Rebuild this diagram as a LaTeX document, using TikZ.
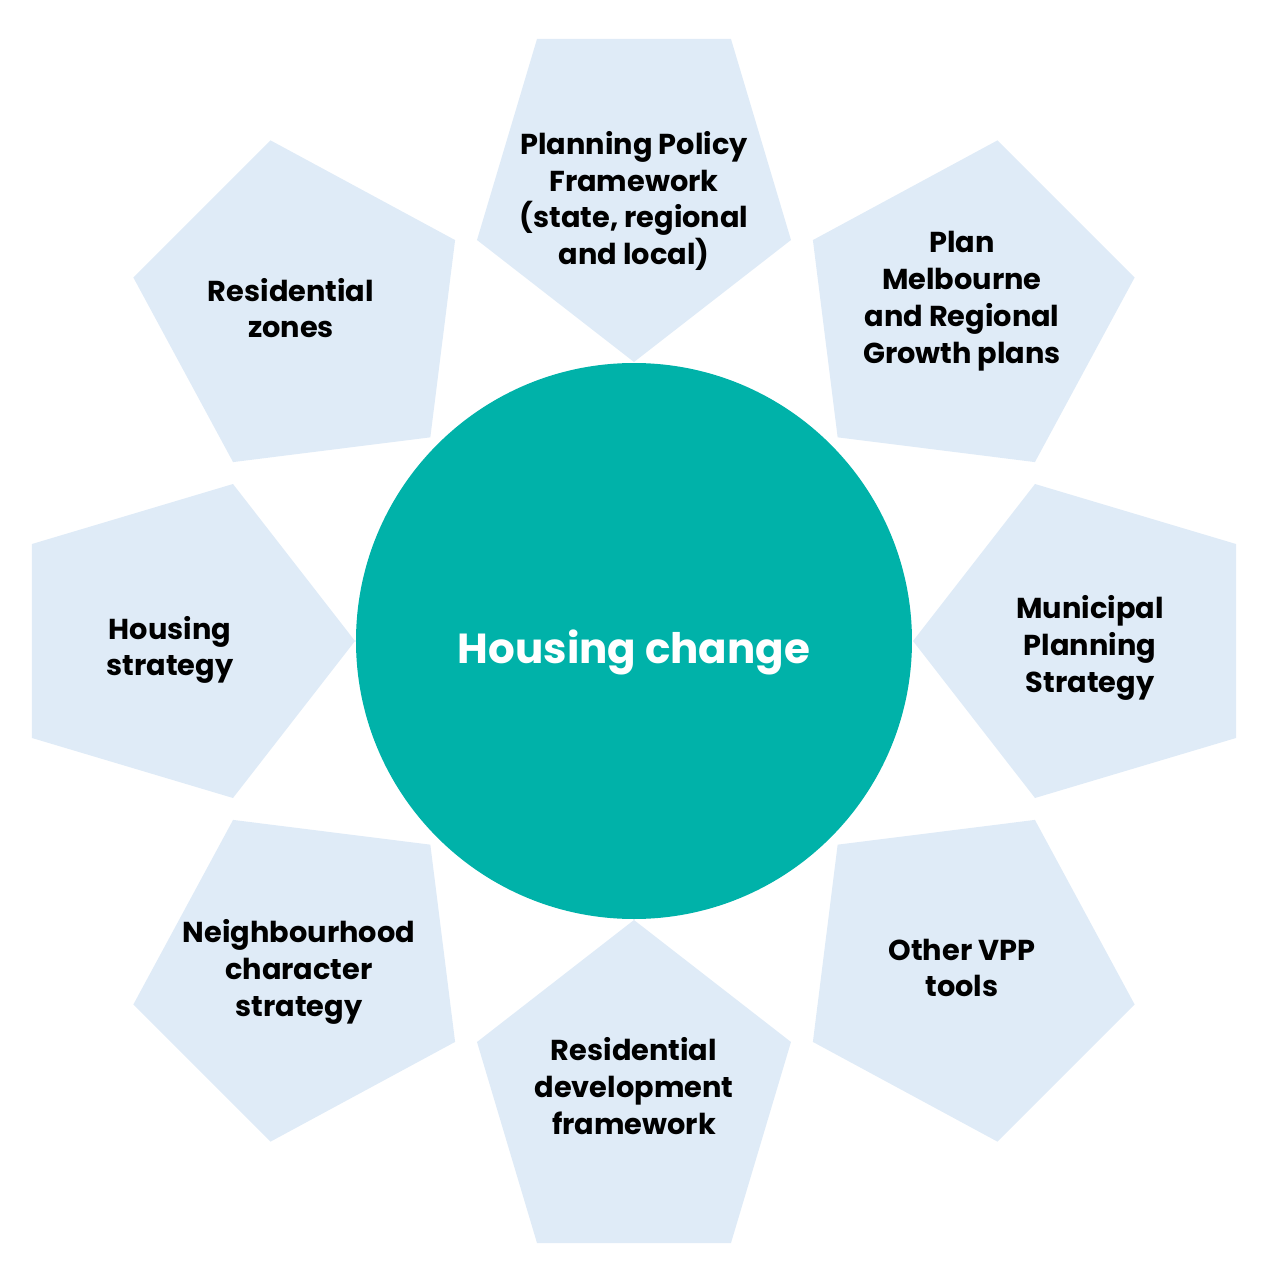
\documentclass[tikz,border=0pt]{standalone}
\usepackage{fontspec}
\setmainfont{Poppins}
\definecolor{petalblue}{HTML}{DFEBF7}
\definecolor{hubteal}{HTML}{00B2A9}
\begin{document}
\begin{tikzpicture}[x=0.5pt,y=0.5pt,
    petal/.style={fill=petalblue},
    main node/.style={align=center,inner sep=0pt,font=\fontsize{14.4}{18.4}\selectfont\bfseries},
    hub node/.style={circle,fill=hubteal,minimum size=278pt,inner sep=0pt},
    hub label/.style={text=white,inner sep=0pt,font=\fontsize{21}{25}\selectfont\bfseries}]
            \useasboundingbox (-634,-624) rectangle (630,641);

            \foreach \ang/\off in {0/0,45/9,90/0,135/9,180/0,225/9,270/0,315/9}
                \fill[petal,rotate=\ang] (279+\off,0) -- (401+\off,157) -- (602+\off,97)
                    -- (602+\off,-97) -- (401+\off,-157) -- cycle;

            \node[hub node] at (0,0) (hub) {};
            \node[hub label,anchor=base] at (0,-22) (change) {Housing change};

            \node[main node] at (0, 440) (ppf) {Planning Policy\\Framework\\(state, regional\\and local)};
            \node[main node] at (328, 340) (plan) {Plan\\Melbourne\\and Regional\\Growth plans};
            \node[main node] at (456, -7) (mps) {Municipal\\Planning\\Strategy};
            \node[main node] at (328, -327) (vpp) {Other VPP\\tools};
            \node[main node] at (0, -445) (rdf) {Residential\\development\\framework};
            \node[main node] at (-335, -331) (nbh) {Neighbourhood\\character\\strategy};
            \node[main node] at (-464, -9) (hs) {Housing\\strategy};
            \node[main node] at (-343, 333) (rz) {Residential\\zones};
        \end{tikzpicture}
\end{document}
